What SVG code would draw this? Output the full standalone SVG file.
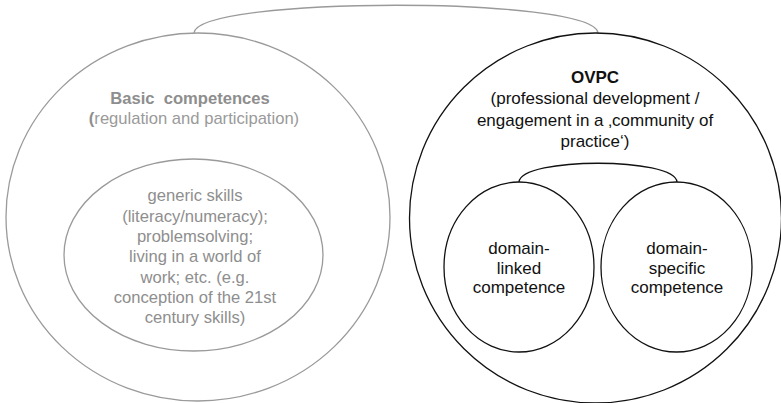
<svg xmlns="http://www.w3.org/2000/svg" width="781" height="403" viewBox="0 0 781 403">
<style>
text{font-family:"Liberation Sans",Arial,sans-serif;font-size:17px;text-anchor:middle}
.l{font-size:16.6px}
.g{fill:#8e8e8e}
.gl{fill:#9a9a9a}
.k{fill:#111}
.b{font-weight:bold}
.gs{fill:none;stroke:#9a9a9a;stroke-width:1.3}
.ks{fill:none;stroke:#111;stroke-width:1.3}
</style>
<rect width="781" height="403" fill="#fff"/>
<g id="connectors">
<path class="gs" d="M194,33 C198,-4 594,-4 598,33"/>
<path class="ks" d="M519,182 C521,157 675,157 677,182"/>
</g>
<g id="basic">
<ellipse class="gs" cx="198" cy="217" rx="192" ry="184"/>
<text class="l g b" x="190" y="104" xml:space="preserve">Basic  competences</text>
<text class="l gl" x="194" y="124"><tspan class="g b">(</tspan>regulation and participation)</text>
</g>
<g id="generic">
<ellipse class="gs" cx="193.5" cy="255" rx="129.5" ry="96"/>
<text class="l g" x="195" y="201">generic skills</text>
<text class="l g" x="195" y="221.5">(literacy/numeracy);</text>
<text class="l g" x="195" y="242">problemsolving;</text>
<text class="l g" x="195" y="262">living in a world of</text>
<text class="l g" x="195" y="282.5">work; etc. (e.g.</text>
<text class="l g" x="195" y="303">conception of the 21st</text>
<text class="l g" x="195" y="323">century skills)</text>
</g>
<g id="ovpc">
<ellipse class="ks" cx="595.5" cy="218" rx="186" ry="185"/>
<text class="k b" x="595" y="83">OVPC</text>
<text class="k" x="595" y="104">(professional development /</text>
<text class="k" x="595" y="125.5">engagement in a ‚community of</text>
<text class="k" x="595" y="147">practice‘)</text>
</g>
<g id="domain-linked">
<ellipse class="ks" cx="519" cy="267" rx="75" ry="85"/>
<text class="k" x="519" y="254">domain-</text>
<text class="k" x="519" y="273.5">linked</text>
<text class="k" x="519" y="293">competence</text>
</g>
<g id="domain-specific">
<ellipse class="ks" cx="676.5" cy="267" rx="75.5" ry="85"/>
<text class="k" x="677" y="254">domain-</text>
<text class="k" x="677" y="273.5">specific</text>
<text class="k" x="677" y="293">competence</text>
</g>
</svg>
